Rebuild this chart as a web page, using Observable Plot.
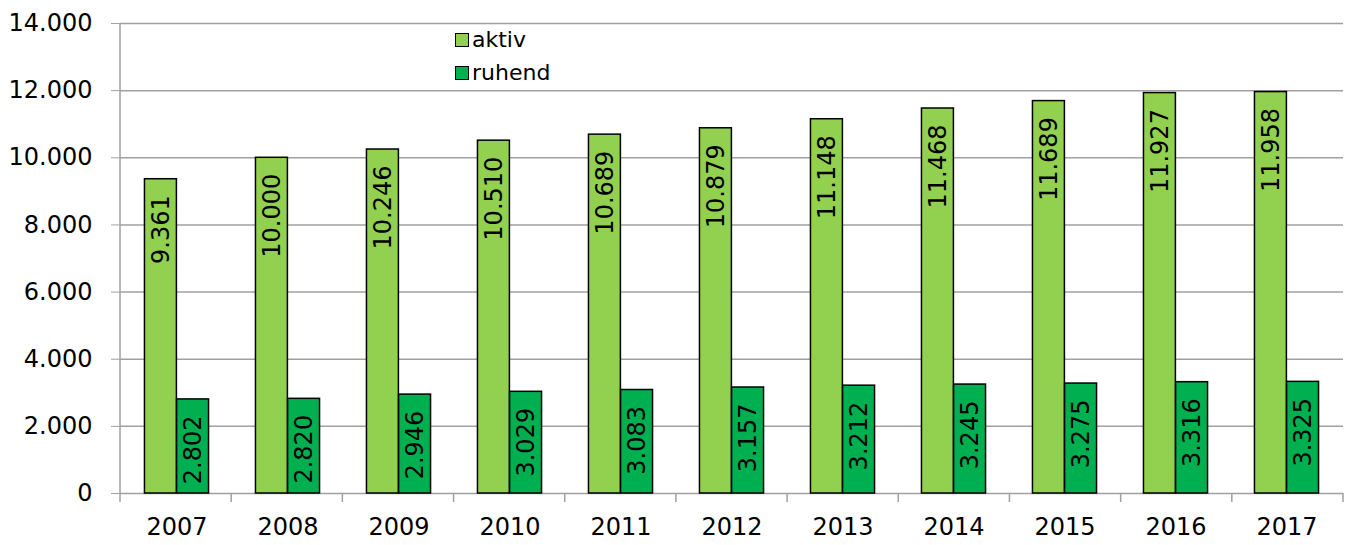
<!DOCTYPE html>
<html><head><meta charset="utf-8">
<script src="https://cdn.jsdelivr.net/npm/d3@7"></script>
<script src="https://cdn.jsdelivr.net/npm/@observablehq/plot@0.6"></script>
<style>
body{margin:0;background:#fff;}
#wrap{position:relative;width:1352px;height:545px;}
#legend{position:absolute;left:455px;top:23px;font-family:"DejaVu Sans";font-size:22px;color:#000;}
.li{display:flex;align-items:center;height:33px;}
.sw{display:inline-block;width:12px;height:12px;border:1px solid #000;margin-right:3px;}
</style></head><body><div id="wrap"><div id="legend"></div></div>
<script>
const years = ["2007","2008","2009","2010","2011","2012","2013","2014","2015","2016","2017"];
const aktiv = [9361,10000,10246,10510,10689,10879,11148,11468,11689,11927,11958];
const ruhend = [2802,2820,2946,3029,3083,3157,3212,3245,3275,3316,3325];
const series = ["aktiv","ruhend"];
const colors = ["#92D050","#00B050"];
const yTicks = [0,2000,4000,6000,8000,10000,12000,14000];

const W=1352,H=545,ml=120,mr=9,mt=23,mb=52;
const bw=(W-ml-mr)/years.length;
const de = d3.formatLocale({decimal:",",thousands:".",grouping:[3],currency:["","€"]});
const fmt = de.format(",d");
const rowsA = years.map((y,i)=>({year:y,series:series[0],value:aktiv[i]}));
const rowsR = years.map((y,i)=>({year:y,series:series[1],value:ruhend[i]}));
const edge = 0.211, half = 0.5;
const off = (half-edge)/2;

const chart = Plot.plot({
  width:W,height:H,marginLeft:ml,marginRight:mr,marginTop:mt,marginBottom:mb,
  style:{fontFamily:"DejaVu Sans",fontSize:"24px",background:"#fff",color:"#000"},
  x:{domain:years,padding:0,label:null},
  y:{domain:[0,14000],label:null},
  marks:[
    Plot.ruleY(yTicks,{stroke:"#a0a0a0",strokeWidth:1.5}),
    Plot.barY(rowsA,{x:"year",y:"value",fill:colors[0],stroke:"#000",strokeWidth:1.5,insetLeft:edge*bw,insetRight:half*bw}),
    Plot.barY(rowsR,{x:"year",y:"value",fill:colors[1],stroke:"#000",strokeWidth:1.5,insetLeft:half*bw,insetRight:edge*bw}),
    Plot.text(rowsA,{x:"year",y:"value",text:d=>fmt(d.value),rotate:-90,textAnchor:"end",lineAnchor:"middle",dx:-off*bw,dy:16,fontSize:24,fill:"#000"}),
    Plot.text(rowsR,{x:"year",y:"value",text:d=>fmt(d.value),rotate:-90,textAnchor:"end",lineAnchor:"middle",dx:off*bw,dy:16,fontSize:24,fill:"#000"}),
    Plot.axisY({ticks:yTicks,tickFormat:fmt,tickSize:9,tickPadding:19,stroke:"#a0a0a0",fontSize:24}),
    Plot.axisX({tickSize:0,tickPadding:24,fontSize:24})
  ]
});
document.getElementById("wrap").appendChild(chart);

// band-boundary ticks and y axis line, from Plot's own scales
const sx = chart.scale("x"), sy = chart.scale("y");
const x0 = sx.range[0], step = (sx.range[1]-sx.range[0])/sx.domain.length;
const yb = sy.apply(0), yt = sy.apply(14000);
const g = d3.select(chart).append("g").attr("stroke","#a0a0a0").attr("stroke-width",1.5);
g.append("line").attr("x1",x0).attr("x2",x0).attr("y1",yt).attr("y2",yb+9);
for(let i=1;i<=sx.domain.length;i++){
  const xx = x0+i*step;
  g.append("line").attr("x1",xx).attr("x2",xx).attr("y1",yb).attr("y2",yb+9);
}

const lg = d3.select("#legend");
series.forEach((s,i)=>{
  const r = lg.append("div").attr("class","li");
  r.append("span").attr("class","sw").style("background",colors[i]);
  r.append("span").text(s);
});
</script>
</body></html>
